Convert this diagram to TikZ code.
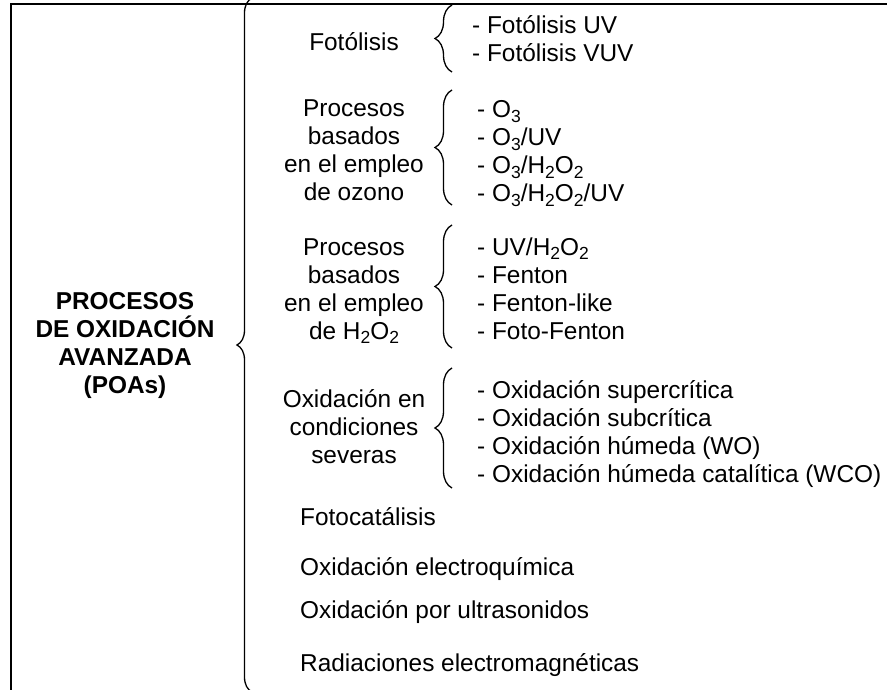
\documentclass[tikz,border=0pt]{standalone}
\usepackage{fontspec}
\setmainfont{Liberation Sans}
\usetikzlibrary{decorations.pathreplacing}
\newcommand{\lowidx}[1]{\raisebox{-4.5pt}{\fontsize{17.5}{17.5}\selectfont #1}}
\tikzset{
  every node/.style={inner sep=0pt, font=\fontsize{24.4}{28}\selectfont},
  head/.style={align=center, font=\fontsize{24.4}{28}\selectfont\bfseries},
  kind/.style={align=center},
  item/.style={anchor=base west},
  curly/.style={decorate, decoration={brace, amplitude=#1}},
}
\begin{document}
\begin{tikzpicture}[x=1pt,y=-1pt]
      \useasboundingbox (0,0) rectangle (887,690);
      \clip (0,0) rectangle (887,690);
      \draw[line width=2pt] (11,4) rectangle (900,700);
      \draw
        (125,346) node[head] (poa) {PROCESOS\\DE OXIDACIÓN\\AVANZADA\\(POAs)}
        (354,51) node[anchor=base] (fot) {Fotólisis}
        (354,150) node[kind] (ozo) {Procesos\\basados\\en el empleo\\de ozono}
        (354,291) node[kind] (hpo) {Procesos\\basados\\en el empleo\\de H\lowidx{2}O\lowidx{2}}
        (354,427) node[kind] (sev) {Oxidación en\\condiciones\\severas}
        (472,34) node[item] (fot1) {- Fotólisis UV}
        (472,62) node[item] (fot2) {- Fotólisis VUV}
        (477,118) node[item] (ozo1) {- O\lowidx{3}}
        (477,146) node[item] (ozo2) {- O\lowidx{3}/UV}
        (477,174) node[item] (ozo3) {- O\lowidx{3}/H\lowidx{2}O\lowidx{2}}
        (477,202) node[item] (ozo4) {- O\lowidx{3}/H\lowidx{2}O\lowidx{2}/UV}
        (477,255) node[item] (hpo1) {- UV/H\lowidx{2}O\lowidx{2}}
        (477,283) node[item] (hpo2) {- Fenton}
        (477,311) node[item] (hpo3) {- Fenton-like}
        (477,339) node[item] (hpo4) {- Foto-Fenton}
        (477,398) node[item] (sev1) {- Oxidación supercrítica}
        (477,426) node[item] (sev2) {- Oxidación subcrítica}
        (477,454) node[item] (sev3) {- Oxidación húmeda (WO)}
        (477,482) node[item] (sev4) {- Oxidación húmeda catalítica (WCO)}
        (300,525) node[item] (cat) {Fotocatálisis}
        (300,575) node[item] (ele) {Oxidación electroquímica}
        (300,618) node[item] (ult) {Oxidación por ultrasonidos}
        (300,671) node[item] (rad) {Radiaciones electromagnéticas};
      \coordinate (poa0) at (252,692);
      \coordinate (poa1) at (252,-2);
      \coordinate (fot0) at (452,72);
      \coordinate (fot1) at (452,5);
      \coordinate (ozo0) at (452,205);
      \coordinate (ozo1) at (452,90);
      \coordinate (hpo0) at (452,348);
      \coordinate (hpo1) at (452,225);
      \coordinate (sev0) at (452,488);
      \coordinate (sev1) at (452,368);
      \begin{scope}[line width=1.3pt]
        \draw[curly=15] (poa0) -- (poa1);
        \draw[curly=17] (fot0) -- (fot1);
        \draw[curly=17] (ozo0) -- (ozo1);
        \draw[curly=17] (hpo0) -- (hpo1);
        \draw[curly=17] (sev0) -- (sev1);
      \end{scope}
    \end{tikzpicture}
\end{document}
